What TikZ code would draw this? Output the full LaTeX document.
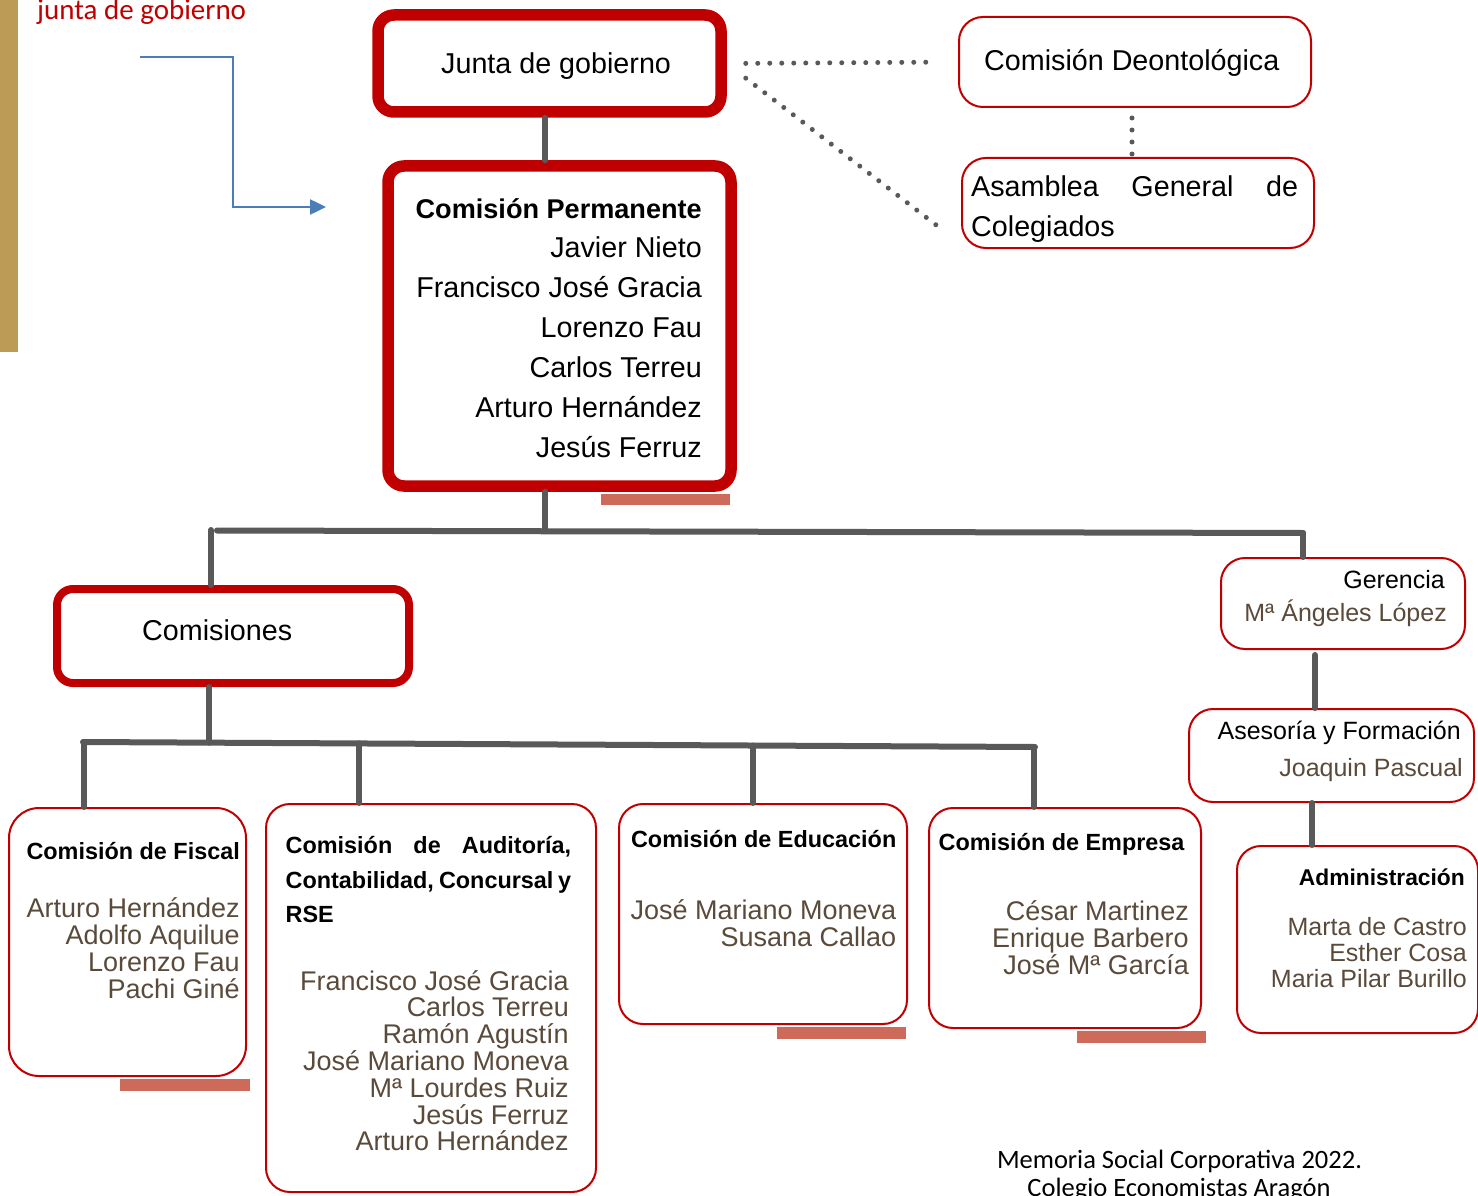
\documentclass[tikz,border=0pt]{standalone}
\usepackage{fontspec}
\setmainfont{Liberation Sans}
\newfontfamily\calfont{Carlito}
\usetikzlibrary{arrows.meta}
\definecolor{redB}{HTML}{C00000}
\definecolor{conn}{HTML}{595959}
\definecolor{namec}{HTML}{594A3A}
\definecolor{salmon}{HTML}{CD6A59}
\definecolor{gold}{HTML}{BC9B56}
\definecolor{arrowblue}{HTML}{4A7EBB}
\begin{document}
\begin{tikzpicture}[x=1pt,y=-1pt,
  thickbox/.style={rectangle,draw=redB,line width=11.5pt,rounded corners=16pt,inner sep=0pt,fill=white},
  combox/.style={rectangle,draw=redB,line width=8pt,rounded corners=16pt,inner sep=0pt,fill=white},
  thinbox/.style={rectangle,draw=redB,line width=2pt,rounded corners=24pt,inner sep=0pt},
  big/.style={font=\fontsize{28.7}{34}\selectfont,inner sep=0pt},
  bigb/.style={font=\fontsize{27.1}{34}\selectfont\bfseries,inner sep=0pt},
  hd/.style={font=\fontsize{23.4}{28}\selectfont\bfseries,inner sep=0pt},
  nm/.style={font=\fontsize{27}{30}\selectfont,text=namec,inner sep=0pt},
  sm/.style={font=\fontsize{25}{30}\selectfont,inner sep=0pt},
  smn/.style={font=\fontsize{25}{30}\selectfont,text=namec,inner sep=0pt},
  smb/.style={font=\fontsize{22.8}{28}\selectfont\bfseries,inner sep=0pt},
  foot/.style={font=\calfont\fontsize{26.5}{30}\selectfont,inner sep=0pt},
  link/.style={draw=conn,line width=6pt,line cap=round},
  dots/.style={draw=conn,line width=5pt,line cap=round,dash pattern=on 0pt off 12pt},
  bar/.style={fill=salmon,draw=none}
]
\useasboundingbox (0,0) rectangle (1478,1196);
% left gold band
\fill[gold] (0,0) rectangle (18,352);
% red caption
\node[font=\calfont\fontsize{29}{32}\selectfont,text=redB,inner sep=0pt,anchor=base west] (cap) at (37,20) {junta de gobierno};
% blue arrow
\coordinate (aS) at (140,57);
\coordinate (aE) at (326,207);
\draw[arrowblue,line width=2.5pt,-{Triangle[length=16pt,width=15pt]}] (aS) -- (233,57) -- (233,207) -- (aE);

% boxes
\node[thickbox,minimum width=343pt,minimum height=97pt] (junta) at (549.5,63.5) {};
\node[thickbox,minimum width=343pt,minimum height=320pt] (perm) at (559.5,326) {};
\node[combox,minimum width=352pt,minimum height=94pt] (com) at (233,636) {};
\node[thinbox,minimum width=352pt,minimum height=90pt] (deont) at (1135,62) {};
\node[thinbox,minimum width=352pt,minimum height=90pt] (asam) at (1138,203) {};
\node[thinbox,minimum width=244pt,minimum height=91pt] (ger) at (1343,603.5) {};
\node[thinbox,minimum width=285pt,minimum height=93pt] (ase) at (1331.5,755.5) {};
\node[thinbox,minimum width=241pt,minimum height=187pt] (adm) at (1357.5,939.5) {};
\node[thinbox,minimum width=237pt,minimum height=268pt,rounded corners=30pt] (fis) at (127.5,942) {};
\node[thinbox,minimum width=330pt,minimum height=388pt] (aud) at (431,998) {};
\node[thinbox,minimum width=288pt,minimum height=220pt] (edu) at (763,914) {};
\node[thinbox,minimum width=272pt,minimum height=220pt] (emp) at (1065,918) {};

% texts
\node[big,anchor=base west] (tjunta) at (441,74) {Junta de gobierno};
\node[bigb,anchor=base east] (tperm) at (702,218) {Comisión Permanente};
\foreach \t [count=\i from 1] in {Javier Nieto,Francisco José Gracia,Lorenzo Fau,Carlos Terreu,Arturo Hernández,Jesús Ferruz}
  \node[big,anchor=base east] (pm\i) at (702,{218+39.9*\i}) {\t};
\node[big,anchor=base west] (tdeont) at (984,70.5) {Comisión Deontológica};
\node[big,anchor=base west] (tasam1) at (971,196) {\makebox[327pt][s]{Asamblea General de}};
\node[big,anchor=base west] (tasam2) at (971,236) {Colegiados};
\node[big,anchor=base west] (tcom) at (142,640) {Comisiones};
\node[sm,anchor=base east] (tger1) at (1445,588) {Gerencia};
\node[smn,anchor=base east] (tger2) at (1447,621) {Mª Ángeles López};
\node[sm,anchor=base east] (tase1) at (1461,739) {Asesoría y Formación};
\node[smn,anchor=base east] (tase2) at (1463,776) {Joaquin Pascual};
\node[smb,anchor=base east] (tadm) at (1465,885.7) {Administración};
\foreach \t [count=\i from 0] in {Marta de Castro,Esther Cosa,Maria Pilar Burillo}
  \node[smn,anchor=base east] (ad\i) at (1467,{935+26.4*\i}) {\t};
\node[hd,anchor=base east] (tfis) at (240,859.3) {Comisión de Fiscal};
\foreach \t [count=\i from 0] in {Arturo Hernández,Adolfo Aquilue,Lorenzo Fau,Pachi Giné}
  \node[nm,anchor=base east] (fi\i) at (240,{917.7+26.9*\i}) {\t};
\node[hd,anchor=base west] (taud1) at (285.5,853.3) {\makebox[285.5pt][s]{Comisión de Auditoría,}};
\node[hd,anchor=base west] (taud2) at (285.5,888.3) {\makebox[285.5pt][s]{Contabilidad, Concursal y}};
\node[hd,anchor=base west] (taud3) at (285.5,922.7) {RSE};
\foreach \t [count=\i from 0] in {Francisco José Gracia,Carlos Terreu,Ramón Agustín,José Mariano Moneva,Mª Lourdes Ruiz,Jesús Ferruz,Arturo Hernández}
  \node[nm,anchor=base east] (au\i) at (569,{990+26.8*\i}) {\t};
\node[hd,anchor=base east] (tedu) at (896.5,847.3) {Comisión de Educación};
\foreach \t [count=\i from 0] in {José Mariano Moneva,Susana Callao}
  \node[nm,anchor=base east] (ed\i) at (896.5,{919.3+26.8*\i}) {\t};
\node[hd,anchor=base west] (temp) at (938.5,850.7) {Comisión de Empresa};
\foreach \t [count=\i from 0] in {César Martinez,Enrique Barbero,José Mª García}
  \node[nm,anchor=base east] (em\i) at (1189,{920+27.1*\i}) {\t};
\node[foot,anchor=base] (foot1) at (1179.5,1168) {Memoria Social Corporativa 2022.};
\node[foot,anchor=base] (foot2) at (1179,1196) {Colegio Economistas Aragón};

% dotted links
\draw[dots,shorten <=19pt,shorten >=30pt] (junta.east) -- (deont.west);
\coordinate (dEnd) at (940,228);
\draw[dots,shorten <=24pt] (junta.east) -- (dEnd);
\draw[dots,shorten <=10pt] (1132,0 |- deont.south) -- (1132,0 |- asam.north);

% solid links
\draw[link] (545,0 |- junta.south) -- (545,0 |- perm.north);
\coordinate (jL) at (217,530.5);
\coordinate (jV) at (211,530);
\coordinate (jR) at (1303,533);
\coordinate (jM) at (545,531);
\draw[link] (545,0 |- perm.south) -- (jM);
\draw[link] (jL) -- (jR);
\draw[link] (jV) -- (211,0 |- com.north);
\draw[link] (jR) -- (1303,0 |- ger.north);
\coordinate (kL) at (83,742);
\coordinate (kR) at (1035,747);
\coordinate (kM) at (209,742.7);
\draw[link] (209,0 |- com.south) -- (kM);
\draw[link] (kL) -- (kR);
\coordinate (k1) at (84,742);
\coordinate (k2) at (359,743.4);
\coordinate (k3) at (753,745.5);
\coordinate (k4) at (1034,747);
\draw[link] (k1) -- (84,0 |- fis.north);
\draw[link] (k2) -- (359,0 |- aud.north);
\draw[link] (k3) -- (753,0 |- edu.north);
\draw[link] (k4) -- (1034,0 |- emp.north);
\draw[link] (1315,655) -- (1315,0 |- ase.north);
\draw[link] (1312,0 |- ase.south) -- (1312,0 |- adm.north);

% salmon bars
\fill[bar] (601,494) rectangle (730,505);
\fill[bar] (120,1079) rectangle (250,1091);
\fill[bar] (777,1027) rectangle (906,1039);
\fill[bar] (1077,1031) rectangle (1206,1043);
\end{tikzpicture}
\end{document}
